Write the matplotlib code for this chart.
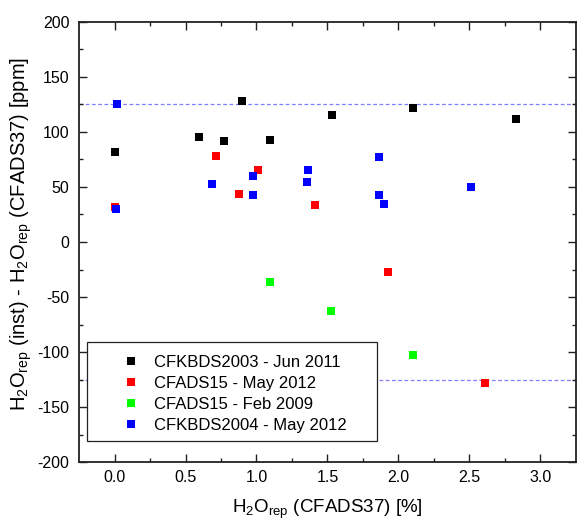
import matplotlib
matplotlib.use("Agg")
import matplotlib.pyplot as plt
from matplotlib.patches import Rectangle

plt.rcParams['font.family'] = ['Liberation Sans', 'DejaVu Sans']
plt.rcParams['mathtext.default'] = 'regular'
plt.rcParams['axes.unicode_minus'] = False

# ===== DATA =====
black_x = [0.0, 0.594, 0.771, 0.897, 1.093, 1.532, 2.10, 2.826]
black_y = [81.5, 95.7, 92.0, 128.5, 92.7, 115.7, 122.0, 111.5]

red_x = [0.0, 0.715, 0.878, 1.014, 1.413, 1.93, 2.609]
red_y = [32.0, 78.0, 43.6, 65.5, 33.3, -27.0, -128.0]

green_x = [1.093, 1.528, 2.105]
green_y = [-36.4, -63.0, -103.0]

blue_x = [0.014, 0.007, 0.689, 0.979, 0.974, 1.364, 1.357, 1.866, 1.862, 1.90, 2.514]
blue_y = [125.7, 29.7, 53.0, 60.0, 42.7, 65.5, 54.5, 77.5, 43.0, 34.8, 50.0]

labels = ['CFKBDS2003 - Jun 2011', 'CFADS15 - May 2012',
          'CFADS15 - Feb 2009', 'CFKBDS2004 - May 2012']
ref_levels = [125, -125]

x_ticks = [0.0, 0.5, 1.0, 1.5, 2.0, 2.5, 3.0]
y_ticks = [-200, -150, -100, -50, 0, 50, 100, 150, 200]

fig = plt.figure(figsize=(5.77, 5.21), dpi=100)
ax = fig.add_axes([0.137, 0.113, 0.861, 0.845])

for lvl in ref_levels:
    ax.axhline(lvl, color='#7f7fff', linestyle=(0, (3, 2)), linewidth=0.9, zorder=1)

series = [(black_x, black_y, '#000000'), (red_x, red_y, '#ff0000'),
          (green_x, green_y, '#00ff00'), (blue_x, blue_y, '#0000ff')]
handles = []
for (xs, ys, c), lab in zip(series, labels):
    h, = ax.plot(xs, ys, 's', color=c, markersize=6, markeredgewidth=0,
                 label=lab, zorder=3)
    handles.append(h)

ax.set_xlim(-0.25, 3.25)
ax.set_ylim(-200, 200)
ax.set_xticks(x_ticks)
ax.set_xticklabels([f'{v:.1f}' for v in x_ticks])
ax.set_yticks(y_ticks)
ax.set_xticks([v + 0.25 for v in x_ticks[:-1]], minor=True)
ax.set_yticks(range(-175, 200, 50), minor=True)

ax.tick_params(which='both', direction='in', top=True, right=True,
               labelsize=11.5, width=1, color='#222222')
ax.tick_params(which='major', length=6)
ax.tick_params(which='minor', length=3)
ax.tick_params(axis='x', pad=6)
ax.tick_params(axis='y', pad=7)
for sp in ax.spines.values():
    sp.set_linewidth(1.3)
    sp.set_color('#222222')

ax.set_xlabel('H$_2$O$_{rep}$ (CFADS37) [%]', fontsize=13.5)
ax.set_ylabel('H$_2$O$_{rep}$ (inst) - H$_2$O$_{rep}$ (CFADS37) [ppm]', fontsize=14.5)
ax.xaxis.set_label_coords(0.5, -0.08)
ax.yaxis.set_label_coords(-0.09, 0.518)

# legend box drawn separately so the padding matches the original
box = Rectangle((0.016, 0.047), 0.583, 0.225, transform=ax.transAxes,
                facecolor='white', edgecolor='#222222', linewidth=0.9, zorder=4)
ax.add_patch(box)
leg = ax.legend(handles=handles, loc='upper left', bbox_to_anchor=(0.088, 0.243),
                frameon=False, borderpad=0, borderaxespad=0, handlelength=1.0,
                handletextpad=0.9, labelspacing=0.36, markerscale=0.85,
                fontsize=12)
leg.set_zorder(5)

fig.savefig('out.png', dpi=100, facecolor='white')
